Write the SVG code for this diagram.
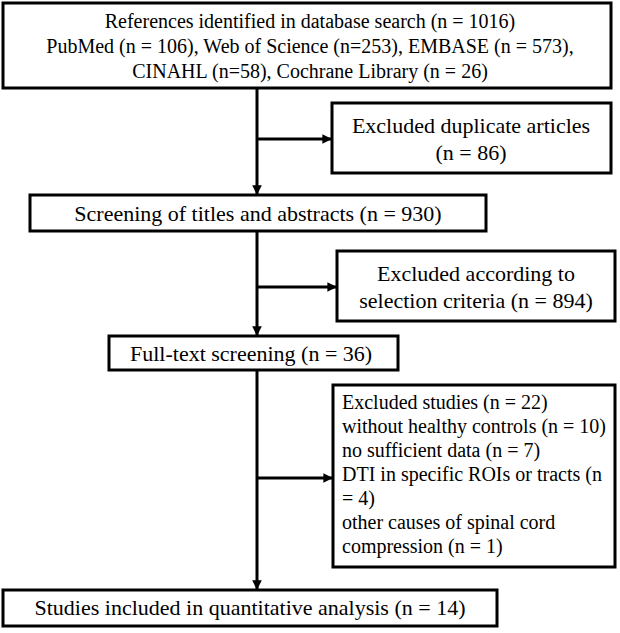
<svg xmlns="http://www.w3.org/2000/svg" width="620" height="633" viewBox="0 0 620 633">
<style>
.box{fill:#fff;stroke:#000;stroke-width:3}
.t{font-family:'Liberation Serif','DejaVu Serif',serif;font-size:20px;fill:#000}
.b{font-size:22px}
.c{text-anchor:middle}
.ln{stroke:#000;stroke-width:3;fill:none}
</style>
<defs>
<marker id="ah" viewBox="0 0 10 10" refX="9" refY="5" markerWidth="3.2" markerHeight="3.2" orient="auto" markerUnits="strokeWidth">
<path d="M0,0 L10,5 L0,10 z" fill="#000"/>
</marker>
</defs>
<rect width="620" height="633" fill="#fff"/>
<g id="connectors">
<line class="ln" x1="257" y1="88" x2="257" y2="194" marker-end="url(#ah)"/>
<line class="ln" x1="257" y1="139" x2="331" y2="139" marker-end="url(#ah)"/>
<line class="ln" x1="257" y1="231" x2="257" y2="335" marker-end="url(#ah)"/>
<line class="ln" x1="257" y1="287" x2="336" y2="287" marker-end="url(#ah)"/>
<line class="ln" x1="257" y1="370" x2="257" y2="589" marker-end="url(#ah)"/>
<line class="ln" x1="257" y1="478" x2="332" y2="478" marker-end="url(#ah)"/>
</g>
<g id="n1">
<rect class="box" x="3" y="3" width="608" height="85"/>
<text class="t c" x="310" y="28">References identified in database search (n = 1016)</text>
<text class="t c" x="310" y="53">PubMed (n = 106), Web of Science (n=253), EMBASE (n = 573),</text>
<text class="t c" x="310" y="78">CINAHL (n=58), Cochrane Library (n = 26)</text>
</g>
<g id="n2">
<rect class="box" x="332" y="103" width="279" height="70"/>
<text class="t b c" x="471" y="133">Excluded duplicate articles</text>
<text class="t b c" x="471" y="160">(n = 86)</text>
</g>
<g id="n3">
<rect class="box" x="30" y="195" width="456" height="36"/>
<text class="t b c" x="258" y="221">Screening of titles and abstracts (n = 930)</text>
</g>
<g id="n4">
<rect class="box" x="337" y="251" width="278" height="70"/>
<text class="t b c" x="476" y="281">Excluded according to</text>
<text class="t b c" x="476" y="308">selection criteria (n = 894)</text>
</g>
<g id="n5">
<rect class="box" x="109" y="336" width="289" height="34"/>
<text class="t b" x="130" y="361">Full-text screening (n = 36)</text>
</g>
<g id="n6">
<rect class="box" x="333" y="385" width="282" height="182"/>
<text class="t" x="342" y="409">Excluded studies (n = 22)</text>
<text class="t" x="342" y="433">without healthy controls (n = 10)</text>
<text class="t" x="342" y="457">no sufficient data (n = 7)</text>
<text class="t" x="342" y="481">DTI in specific ROIs or tracts (n</text>
<text class="t" x="342" y="505">= 4)</text>
<text class="t" x="342" y="529">other causes of spinal cord</text>
<text class="t" x="342" y="553">compression (n = 1)</text>
</g>
<g id="n7">
<rect class="box" x="3" y="590" width="494" height="36"/>
<text class="t b c" x="250" y="615">Studies included in quantitative analysis (n = 14)</text>
</g>
</svg>
